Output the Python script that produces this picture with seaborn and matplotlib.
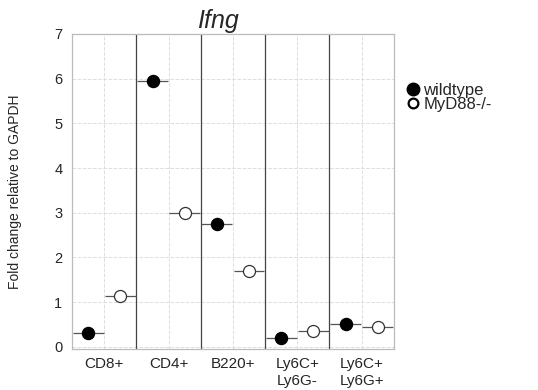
import matplotlib
matplotlib.use('Agg')
import matplotlib.pyplot as plt
from matplotlib.lines import Line2D
import numpy as np
import pandas as pd
import seaborn as sns

# values
cells = ['CD8+', 'CD4+', 'B220+', 'Ly6C+\nLy6G-', 'Ly6C+\nLy6G+']
wildtype = [0.31, 5.95, 2.75, 0.19, 0.52]
myd88_ko = [1.14, 2.99, 1.70, 0.36, 0.45]
genotypes = ['wildtype', 'MyD88-/-']

sns.set_style('white')
plt.rcParams['font.family'] = ['Liberation Sans', 'DejaVu Sans']

df = pd.DataFrame({
    'cell': cells * 2,
    'genotype': [genotypes[0]] * len(cells) + [genotypes[1]] * len(cells),
    'fold': wildtype + myd88_ko,
})
idx = np.tile(np.arange(len(cells)), 2)
shift = np.where(df['genotype'] == genotypes[0], -0.25, 0.25)
df['xpos'] = idx + shift

fig = plt.figure(figsize=(5.38, 3.90), dpi=100)
ax = fig.add_axes([0.134, 0.105, 0.598, 0.808])

# mean bars spanning each slot
ax.hlines(df['fold'], df['xpos'] - 0.24, df['xpos'] + 0.24,
          color='#555555', linewidth=0.9, zorder=2)

sns.scatterplot(data=df[df['genotype'] == genotypes[0]], x='xpos', y='fold',
                ax=ax, s=75, color='black', edgecolor='black',
                linewidth=1, zorder=3, legend=False)
sns.scatterplot(data=df[df['genotype'] == genotypes[1]], x='xpos', y='fold',
                ax=ax, s=75, color='white', edgecolor='#333333',
                linewidth=0.9, zorder=3, legend=False)

ax.set_xlim(-0.5, len(cells) - 0.5)
ax.set_ylim(-0.05, 7)
ax.set_xticks(np.arange(len(cells)))
ax.set_xticklabels(cells)
ax.set_yticks(range(0, 8))
ax.set_xticks(np.arange(len(cells) - 1) + 0.5, minor=True)
ax.tick_params(axis='x', which='major', length=0, pad=6, labelsize=11)
ax.tick_params(axis='x', which='minor', length=5, width=0.9, color='#555555',
               direction='out')
ax.tick_params(axis='y', length=0, pad=7, labelsize=10.5)
ax.grid(True, color='#dddddd', linestyle='--', linewidth=0.7)
ax.set_axisbelow(True)
for sep in np.arange(len(cells) - 1) + 0.5:
    ax.axvline(sep, color='#444444', linewidth=0.9, zorder=1)
for sp in ax.spines.values():
    sp.set_color('#bbbbbb')
    sp.set_linewidth(0.9)

ax.set_xlabel('')
ax.set_ylabel('Fold change relative to GAPDH', fontsize=10)
ax.yaxis.set_label_coords(-0.155, 0.5)
fig.text(0.405, 0.928, 'Ifng', fontsize=18, style='italic', ha='center')

handles = [
    Line2D([], [], marker='o', linestyle='', markersize=9,
           markerfacecolor='black', markeredgecolor='black'),
    Line2D([], [], marker='o', linestyle='', markersize=7,
           markerfacecolor='white', markeredgecolor='black',
           markeredgewidth=1.6),
]
fig.legend(handles, genotypes, loc='upper left', bbox_to_anchor=(0.745, 0.805),
           frameon=False, fontsize=12, handlelength=0.7, handletextpad=0.25,
           labelspacing=-0.05, borderaxespad=0)

fig.savefig('out.png', dpi=100)
